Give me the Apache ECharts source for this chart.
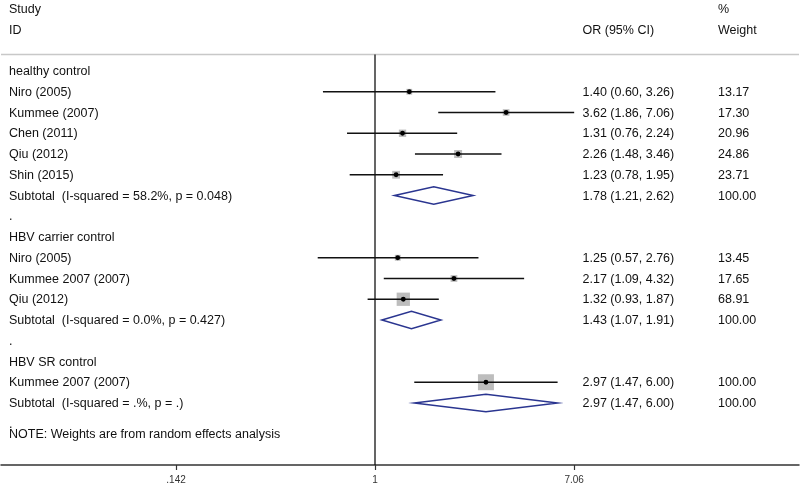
<!DOCTYPE html>
<html><head><meta charset="utf-8">
<script src="https://cdn.jsdelivr.net/npm/echarts@6/dist/echarts.min.js"></script>
<style>html,body{margin:0;padding:0;background:#fff}#c{width:800px;height:485px}</style>
</head><body><div id="c"></div>
<script>
// ---- data ----
const rowLabels = ['healthy control','Niro (2005)','Kummee (2007)','Chen (2011)','Qiu (2012)','Shin (2015)','Subtotal  (I-squared = 58.2%, p = 0.048)','.','HBV carrier control','Niro (2005)','Kummee 2007 (2007)','Qiu (2012)','Subtotal  (I-squared = 0.0%, p = 0.427)','.','HBV SR control','Kummee 2007 (2007)','Subtotal  (I-squared = .%, p = .)','.'];
const rowKind = ['group','study','study','study','study','study','subtotal','blank','group','study','study','study','subtotal','blank','group','study','subtotal','blank'];
const orValues = [null,1.40,3.62,1.31,2.26,1.23,1.78,null,null,1.25,2.17,1.32,1.43,null,null,2.97,2.97,null];
const ciLower  = [null,0.60,1.86,0.76,1.48,0.78,1.21,null,null,0.57,1.09,0.93,1.07,null,null,1.47,1.47,null];
const ciUpper  = [null,3.26,7.06,2.24,3.46,1.95,2.62,null,null,2.76,4.32,1.87,1.91,null,null,6.00,6.00,null];
const weights  = [null,13.17,17.30,20.96,24.86,23.71,100.00,null,null,13.45,17.65,68.91,100.00,null,null,100.00,100.00,null];
const headerLeft = ['Study','ID'];
const headerEffect = ['','OR (95% CI)'];
const headerWeight = ['%','Weight'];
const noteText = 'NOTE: Weights are from random effects analysis';
const xTicks = [0.142, 1, 7.06];
const xTickLabels = ['.142','1','7.06'];
const nullValue = 1;

// ---- layout constants ----
const X_MIN = 0.02548, X_MAX = 64.1;
const Y_MIN = -3.422, Y_MAX = 18.988;
const FONT = '"Liberation Sans", Arial, sans-serif';
const TXT = '#111';

const fmt = v => v.toFixed(2);
const textRows = [];
headerLeft.forEach((t, i) => textRows.push({row: i - 3, left: t, mid: headerEffect[i], right: headerWeight[i]}));
rowLabels.forEach((t, i) => textRows.push({
  row: i, left: t,
  mid: orValues[i] != null ? fmt(orValues[i]) + ' (' + fmt(ciLower[i]) + ', ' + fmt(ciUpper[i]) + ')' : '',
  right: weights[i] != null ? fmt(weights[i]) : ''
}));
textRows.push({row: 17.5, left: noteText, mid: '', right: ''});

const studyData = [], subtotalData = [];
rowKind.forEach((k, i) => {
  if (k === 'study') studyData.push([orValues[i], i, ciLower[i], ciUpper[i], weights[i]]);
  if (k === 'subtotal') subtotalData.push([orValues[i], i, ciLower[i], ciUpper[i]]);
});

const chart = echarts.init(document.getElementById('c'), null, {renderer: 'canvas'});
chart.setOption({
  animation: false,
  backgroundColor: '#fff',
  grid: {left: 1, right: 1, top: 0, bottom: 20, containLabel: false},
  xAxis: {
    type: 'log', logBase: 1.01, min: X_MIN, max: X_MAX,
    axisLine: {show: true, onZero: false, lineStyle: {color: '#333', width: 1.5}},
    axisTick: {show: true, customValues: xTicks, length: 5, lineStyle: {color: '#333', width: 1.2}},
    axisLabel: {show: true, customValues: xTicks, margin: 10, fontSize: 10, color: '#333', fontFamily: FONT,
      formatter: v => { const i = xTicks.findIndex(t => Math.abs(t - v) < 1e-6 * t); return i >= 0 ? xTickLabels[i] : ''; }},
    splitLine: {show: false}
  },
  yAxis: {type: 'value', inverse: true, min: Y_MIN, max: Y_MAX, show: false},
  series: [
    { // header separator
      type: 'line', data: [[X_MIN, -0.8], [X_MAX, -0.8]], symbol: 'none', silent: true,
      lineStyle: {color: '#c8c8c8', width: 1.5}
    },
    { // null line
      type: 'line', data: [[nullValue, -0.8], [nullValue, Y_MAX]], symbol: 'none', silent: true,
      lineStyle: {color: '#111', width: 1.3}
    },
    { // studies
      type: 'custom', data: studyData, encode: {x: [0, 2, 3], y: 1}, silent: true,
      renderItem: (params, api) => {
        const r = api.value(1);
        const c = api.coord([api.value(0), r]);
        const l = api.coord([api.value(2), r]);
        const h = api.coord([api.value(3), r]);
        const s = 16 * Math.sqrt(api.value(4) / 100);
        return {type: 'group', children: [
          {type: 'rect', shape: {x: c[0] - s / 2, y: c[1] - s / 2, width: s, height: s}, style: {fill: '#bdbdbd'}},
          {type: 'line', shape: {x1: l[0], y1: l[1], x2: h[0], y2: h[1]}, style: {stroke: '#111', lineWidth: 1.4}},
          {type: 'circle', shape: {cx: c[0], cy: c[1], r: 2.4}, style: {fill: '#000'}}
        ]};
      }
    },
    { // subtotal diamonds
      type: 'custom', data: subtotalData, encode: {x: [0, 2, 3], y: 1}, silent: true,
      renderItem: (params, api) => {
        const r = api.value(1);
        const c = api.coord([api.value(0), r]);
        const l = api.coord([api.value(2), r]);
        const h = api.coord([api.value(3), r]);
        const hh = 8.8;
        return {type: 'polygon', shape: {points: [[l[0], l[1]], [c[0], c[1] - hh], [h[0], h[1]], [c[0], c[1] + hh]]},
          style: {fill: 'none', stroke: '#2a3590', lineWidth: 1.5}};
      }
    },
    { // text columns
      type: 'custom', data: textRows.map(t => [nullValue, t.row]), encode: {x: 0, y: 1}, silent: true, clip: false,
      renderItem: (params, api) => {
        const t = textRows[params.dataIndex];
        const y = api.coord([nullValue, api.value(1)])[1] + 0.6;
        const cs = params.coordSys;
        const st = (txt, x) => ({type: 'text', x: x, y: y,
          style: {text: txt, fill: TXT, font: '12.5px ' + FONT, textAlign: 'left', textVerticalAlign: 'middle'}});
        return {type: 'group', children: [
          st(t.left, cs.x + 8),
          st(t.mid, cs.x + 581.5),
          st(t.right, cs.x + 717)
        ]};
      }
    }
  ]
});
</script></body></html>
